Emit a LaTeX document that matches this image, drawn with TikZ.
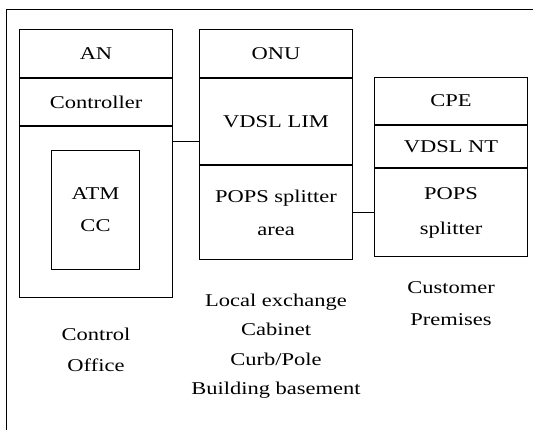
\documentclass[tikz,border=0pt]{standalone}
\usepackage{fontspec}
\setmainfont{Liberation Serif}[FakeStretch=1.25]
\usetikzlibrary{calc,positioning}

\tikzset{
    cell/.style={draw, rectangle, anchor=north west, inner sep=0pt, minimum width=153pt, align=center},
    place/.style={align=center, font=\fontsize{18}{29.5}\selectfont}
}

\begin{document}
\begin{tikzpicture}[x=1pt,y=-1pt,line width=1pt,font=\fontsize{18}{32}\selectfont]
            \useasboundingbox (0,0) rectangle (534,430);
            \draw (533,10) -- (6,10) -- (6,430);
            % central office
            \node[cell, minimum height=48pt] at (19,29) (an) {AN};
            \node[cell, minimum height=47pt] at (an.south west) (ctl) {Controller};
            \node[cell, minimum height=171pt] at (ctl.south west) (anbody) {};
            \node[cell, minimum width=88pt, minimum height=119pt] at (51,150) (atm) {ATM\\CC};
            % onu
            \node[cell, minimum height=48pt] at (199,29) (onu) {ONU};
            \node[cell, minimum height=86pt] at (onu.south west) (lim) {VDSL LIM};
            \node[cell, minimum height=94pt, font=\fontsize{18}{33}\selectfont] at (lim.south west) (pops1) {POPS splitter\\area};
            % customer
            \node[cell, minimum height=47pt] at (374,77) (cpe) {CPE};
            \node[cell, minimum height=42pt] at (cpe.south west) (nt) {VDSL NT};
            \node[cell, minimum height=88pt, font=\fontsize{18}{35}\selectfont] at (nt.south west) (pops2) {POPS\\splitter};
            % links
            \coordinate (k1) at ($(anbody.north east)+(0,16)$);
            \draw (k1) -- (k1 -| lim.west);
            \draw (pops1.east) -- (pops1.east -| pops2.west);
            % places
            \node[place, font=\fontsize{18}{31}\selectfont] at ($(anbody.south)+(0,52)$) (co) {Control\\Office};
            \node[place] at ($(pops1.south)+(0,86)$) (le) {Local exchange\\Cabinet\\Curb/Pole\\Building basement};
            \node[place, font=\fontsize{18}{32}\selectfont] at ($(pops2.south)+(0,47)$) (cp) {Customer\\Premises};
\end{tikzpicture}
\end{document}
